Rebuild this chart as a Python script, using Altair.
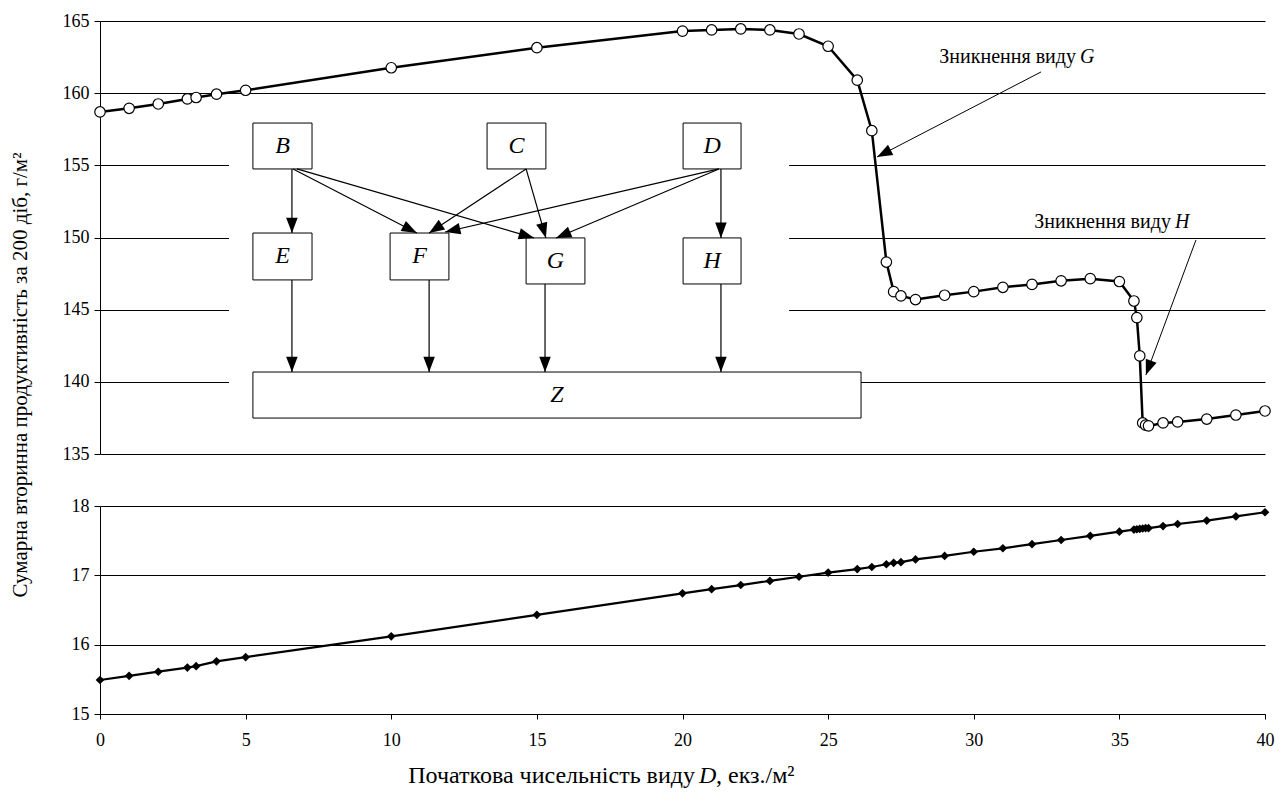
import math
import altair as alt
import pandas as pd

# ---------------- data ----------------
D_VALUES = [0, 1, 2, 3, 3.3, 4, 5, 10, 15, 20, 21, 22, 23, 24, 25, 26, 26.5, 27, 27.25, 27.5,
            28, 29, 30, 31, 32, 33, 34, 35, 35.5, 35.6, 35.7, 35.8, 35.9, 36, 36.5, 37, 38, 39, 40]
TOP_VALUES = [158.7, 158.95, 159.25, 159.6, 159.7, 159.93, 160.2, 161.76, 163.15, 164.3, 164.38,
              164.45, 164.38, 164.1, 163.25, 160.9, 157.4, 148.3, 146.25, 145.95, 145.7, 146.0,
              146.25, 146.55, 146.75, 147.0, 147.15, 146.95, 145.6, 144.45, 141.8, 137.15, 137.0,
              136.95, 137.15, 137.22, 137.42, 137.7, 137.98]
BOTTOM_VALUES = [15.49, 15.55, 15.61, 15.67, 15.69, 15.76, 15.82, 16.12, 16.43, 16.74, 16.80,
                 16.86, 16.92, 16.98, 17.04, 17.09, 17.12, 17.16, 17.18, 17.19, 17.23, 17.28,
                 17.34, 17.39, 17.45, 17.51, 17.57, 17.63, 17.66, 17.665, 17.67, 17.675, 17.68,
                 17.68, 17.71, 17.74, 17.79, 17.85, 17.91]

X_TICKS = [0, 5, 10, 15, 20, 25, 30, 35, 40]
TOP_TICKS = [135, 140, 145, 150, 155, 160, 165]
BOTTOM_TICKS = [15, 16, 17, 18]

Y_TITLE = "Сумарна вторинна продуктивність за 200 діб, г/м²"
X_TITLE_A = "Початкова чисельність виду"
X_TITLE_B = "D"
X_TITLE_C = ", екз./м²"
NOTE_TEXT = "Зникнення виду"
NOTE_LETTERS = ["G", "H"]
NOTE_X = [33.51, 36.77]
NOTE_Y = [162.51, 151.07]

# inset diagram (in the top panel's data units)
BOX_LABELS = ["B", "C", "D", "E", "F", "G", "H", "Z"]
BOX_X1 = [5.25, 13.29, 20.02, 5.25, 9.96, 14.63, 20.02, 5.25]
BOX_X2 = [7.28, 15.31, 22.01, 7.28, 11.98, 16.65, 22.01, 26.13]
BOX_Y1 = [157.93, 157.93, 157.93, 150.31, 150.31, 149.97, 149.97, 140.68]
BOX_Y2 = [154.75, 154.75, 154.75, 147.06, 147.06, 146.78, 146.78, 137.49]

ARROW_X1 = [6.59, 6.63, 6.76, 14.63, 14.63, 21.25, 21.25, 21.32, 6.59, 11.30, 15.28, 21.32]
ARROW_Y1 = [154.75, 154.75, 154.75, 154.75, 154.75, 154.75, 154.75, 154.75, 147.06, 147.06, 146.78, 146.78]
ARROW_X2 = [6.59, 10.88, 14.90, 11.30, 15.31, 11.85, 15.66, 21.32, 6.59, 11.30, 15.28, 21.32]
ARROW_Y2 = [150.31, 150.31, 149.97, 150.31, 149.97, 150.38, 149.97, 149.97, 140.68, 140.68, 140.68, 140.68]

NOTE_ARROW_X1 = [32.31, 37.63]
NOTE_ARROW_Y1 = [161.47, 149.83]
NOTE_ARROW_X2 = [26.68, 35.91]
NOTE_ARROW_Y2 = [155.58, 140.47]

INSET_BG = {"x1": [4.43], "x2": [23.66], "y1": [158.83], "y2": [136.66]}

# ---------------- layout / style ----------------
FONT = "Liberation Serif"
W, H_TOP, H_BOT = 1165, 433, 208
X_DOMAIN = [0, 40]
TOP_DOMAIN = [135, 165]
BOT_DOMAIN = [15, 18]
HEAD_PATH = "M0,0L0.47,1.25L-0.47,1.25Z"

xs = alt.Scale(domain=X_DOMAIN, nice=False, zero=False)
ys_top = alt.Scale(domain=TOP_DOMAIN, nice=False, zero=False)
ys_bot = alt.Scale(domain=BOT_DOMAIN, nice=False, zero=False)

common_axis = dict(labelFont=FONT, labelFontSize=18, labelColor="black", domainColor="black",
                   domainWidth=1, tickColor="black", tickWidth=1, title=None, labelFlush=False)
top_y_axis = alt.Axis(values=TOP_TICKS, grid=True, gridColor="black", gridWidth=1, gridOpacity=1,
                      tickSize=6, labelPadding=5, **common_axis)
bot_y_axis = alt.Axis(values=BOTTOM_TICKS, grid=True, gridColor="black", gridWidth=1, gridOpacity=1,
                      tickSize=6, labelPadding=5, **common_axis)
bot_x_axis = alt.Axis(values=X_TICKS, grid=False, tickSize=5, labelPadding=12, **common_axis)

px_x = W / (X_DOMAIN[1] - X_DOMAIN[0])
px_y_top = H_TOP / (TOP_DOMAIN[1] - TOP_DOMAIN[0])


def head_angle(x1, y1, x2, y2):
    dx = (x2 - x1) * px_x
    dy = -(y2 - y1) * px_y_top  # screen y grows downward
    return math.degrees(math.atan2(dx, -dy)) % 360


def X(field):
    return alt.X(field, type="quantitative", scale=xs, axis=None)


def YT(field):
    return alt.Y(field, type="quantitative", scale=ys_top, axis=top_y_axis)


# ---------------- top panel ----------------
top_df = pd.DataFrame({"x": D_VALUES, "y": TOP_VALUES})
top_base = alt.Chart(top_df).encode(x=X("x"), y=YT("y"))
top_line = top_base.mark_line(color="black", strokeWidth=2.5)
top_pts = top_base.mark_point(shape="circle", filled=True, fill="white", stroke="black",
                              strokeWidth=1.2, size=110, opacity=1)

bg = alt.Chart(pd.DataFrame(INSET_BG)).mark_rect(color="white").encode(
    x=X("x1"), x2="x2", y=YT("y1"), y2="y2")

box_df = pd.DataFrame({"label": BOX_LABELS, "x1": BOX_X1, "x2": BOX_X2, "y1": BOX_Y1, "y2": BOX_Y2})
box_df["xc"] = (box_df.x1 + box_df.x2) / 2
box_df["yc"] = (box_df.y1 + box_df.y2) / 2
boxes = alt.Chart(box_df).mark_rect(fill="white", stroke="black", strokeWidth=1).encode(
    x=X("x1"), x2="x2", y=YT("y1"), y2="y2")
box_text = alt.Chart(box_df).mark_text(font=FONT, fontSize=24, fontStyle="italic", color="black",
                                       align="center", baseline="middle").encode(
    x=X("xc"), y=YT("yc"), text="label:N")

arr_df = pd.DataFrame({"x1": ARROW_X1, "y1": ARROW_Y1, "x2": ARROW_X2, "y2": ARROW_Y2})
arr_df["angle"] = [head_angle(a, b, c, d) for a, b, c, d in zip(arr_df.x1, arr_df.y1, arr_df.x2, arr_df.y2)]
arr_lines = alt.Chart(arr_df).mark_rule(color="black", strokeWidth=1.2).encode(
    x=X("x1"), y=YT("y1"), x2="x2", y2="y2")
arr_heads = alt.Chart(arr_df).mark_point(shape=HEAD_PATH, filled=True, color="black", size=600,
                                         opacity=1, strokeWidth=0).encode(
    x=X("x2"), y=YT("y2"), angle=alt.Angle("angle:Q", scale=None))

note_arr_df = pd.DataFrame({"x1": NOTE_ARROW_X1, "y1": NOTE_ARROW_Y1, "x2": NOTE_ARROW_X2, "y2": NOTE_ARROW_Y2})
note_arr_df["angle"] = [head_angle(a, b, c, d) for a, b, c, d in
                        zip(note_arr_df.x1, note_arr_df.y1, note_arr_df.x2, note_arr_df.y2)]
note_lines = alt.Chart(note_arr_df).mark_rule(color="black", strokeWidth=1).encode(
    x=X("x1"), y=YT("y1"), x2="x2", y2="y2")
note_heads = alt.Chart(note_arr_df).mark_point(shape=HEAD_PATH, filled=True, color="black", size=600,
                                               opacity=1, strokeWidth=0).encode(
    x=X("x2"), y=YT("y2"), angle=alt.Angle("angle:Q", scale=None))

note_df = pd.DataFrame({"t": [NOTE_TEXT, NOTE_TEXT], "letter": NOTE_LETTERS, "x": NOTE_X, "y": NOTE_Y})
note_text = alt.Chart(note_df).mark_text(font=FONT, fontSize=20, color="black", align="right",
                                         baseline="middle").encode(x=X("x"), y=YT("y"), text="t:N")
note_letter = alt.Chart(note_df).mark_text(font=FONT, fontSize=20, fontStyle="italic", color="black",
                                           align="left", baseline="middle", dx=4).encode(
    x=X("x"), y=YT("y"), text="letter:N")

y_title = alt.Chart(pd.DataFrame({"t": [Y_TITLE]})).mark_text(
    font=FONT, fontSize=21, angle=270, align="center", baseline="middle", color="black").encode(
    text="t:N", x=alt.value(-79), y=alt.value(354))

top = alt.layer(top_line, bg, top_pts, boxes, arr_lines, arr_heads, box_text,
                note_lines, note_heads, note_text, note_letter, y_title).properties(
    width=W, height=H_TOP)

# ---------------- bottom panel ----------------
bot_df = pd.DataFrame({"x": D_VALUES, "y": BOTTOM_VALUES})
bot_base = alt.Chart(bot_df).encode(
    x=alt.X("x:Q", scale=xs, axis=bot_x_axis),
    y=alt.Y("y:Q", scale=ys_bot, axis=bot_y_axis),
)
bot_line = bot_base.mark_line(color="black", strokeWidth=2.2)
bot_pts = bot_base.mark_point(shape="diamond", filled=True, color="black", size=75, opacity=1)

xt_a = alt.Chart(pd.DataFrame({"t": [X_TITLE_A]})).mark_text(
    font=FONT, fontSize=24, align="right", baseline="middle", color="black").encode(
    text="t:N", x=alt.value(595), y=alt.value(270))
xt_b = alt.Chart(pd.DataFrame({"t": [X_TITLE_B]})).mark_text(
    font=FONT, fontSize=24, fontStyle="italic", align="left", baseline="middle", color="black").encode(
    text="t:N", x=alt.value(599), y=alt.value(270))
xt_c = alt.Chart(pd.DataFrame({"t": [X_TITLE_C]})).mark_text(
    font=FONT, fontSize=24, align="left", baseline="middle", color="black").encode(
    text="t:N", x=alt.value(616), y=alt.value(270))

bottom = alt.layer(bot_line, bot_pts, xt_a, xt_b, xt_c).properties(width=W, height=H_BOT)

chart = alt.vconcat(top, bottom, spacing=52, bounds="flush").properties(
    padding={"left": 10, "top": 12, "right": 5, "bottom": 5},
    background="white",
).configure_view(stroke=None)

chart.save("out.html", embed_options={"renderer": "svg", "actions": False})
